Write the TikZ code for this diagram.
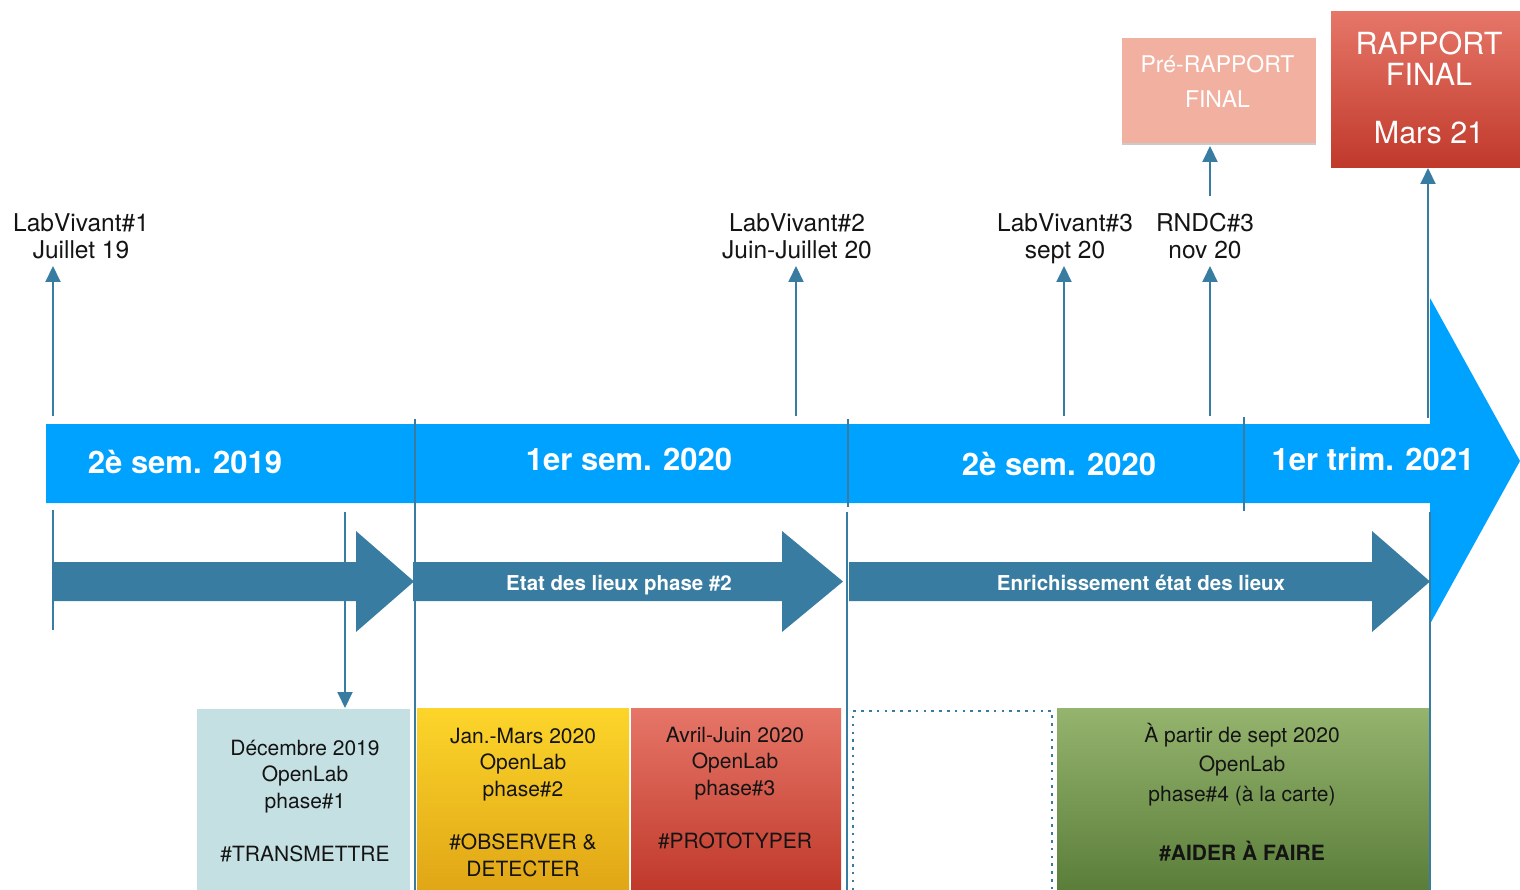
\documentclass[tikz,border=0pt]{standalone}
\usepackage{fontspec}
\setmainfont{TeX Gyre Heros}
\usetikzlibrary{arrows.meta,shadows}
\definecolor{band}{RGB}{0,162,255}
\definecolor{steel}{RGB}{56,125,161}
\definecolor{prefill}{RGB}{242,176,160}
\definecolor{rtop}{RGB}{230,118,104}
\definecolor{rbot}{RGB}{192,57,43}
\definecolor{ytop}{RGB}{252,213,42}
\definecolor{ybot}{RGB}{224,166,22}
\definecolor{gtop}{RGB}{149,180,110}
\definecolor{gbot}{RGB}{90,126,58}
\definecolor{pblue}{RGB}{196,224,227}
\definecolor{ink}{RGB}{20,20,20}
\begin{document}
\begin{tikzpicture}[x=1pt,y=-1pt,
  vline/.style={draw=steel, line width=2pt},
  uparrow/.style={vline, -{Triangle[length=16pt,width=15pt]}},
  lbl/.style={align=center, inner sep=0pt, outer sep=0pt, anchor=north, text=ink,
    font=\fontsize{24.5}{26.5}\selectfont},
  bandtxt/.style={text=white, font=\fontsize{31}{34}\selectfont\bfseries, inner sep=0pt},
  arrtxt/.style={text=white, font=\fontsize{20.5}{24}\selectfont\bfseries, inner sep=0pt, anchor=base},
  boxtxt/.style={align=center, inner sep=0pt, outer sep=0pt, anchor=north, text=ink,
    font=\fontsize{21}{26.6}\selectfont},
  panel/.style={rectangle, inner sep=0pt, outer sep=0pt, anchor=north west, draw=none},
]
\useasboundingbox (0,0) rectangle (1520,890);

% ---- bottom panels
\node[panel, fill=pblue, minimum width=213pt, minimum height=181pt] (p1) at (197,709) {};
\node[panel, top color=ytop, bottom color=ybot, minimum width=212pt, minimum height=182pt] (p2) at (417,708) {};
\node[panel, top color=rtop, bottom color=rbot, minimum width=210pt, minimum height=182pt] (p3) at (631,708) {};
\node[panel, top color=gtop, bottom color=gbot, minimum width=373pt, minimum height=182pt] (p4) at (1057,708) {};
\draw[steel, line width=2.5pt, dash pattern=on 2.5pt off 5.3pt] (853,890) -- (853,711) -- (1052,711) -- (1052,890);

\node[boxtxt] (p1t) at (305,733) {\rule{0pt}{22pt}Décembre 2019\\OpenLab\\phase\#1\\[26.6pt]\#TRANSMETTRE};
\node[boxtxt] (p2t) at (523,721) {\rule{0pt}{22pt}Jan.-Mars 2020\\OpenLab\\phase\#2\\[26.6pt]\#OBSERVER \&\\DETECTER};
\node[boxtxt] (p3t) at (735,720) {\rule{0pt}{22pt}Avril-Juin 2020\\OpenLab\\phase\#3\\[26.6pt]\#PROTOTYPER};
\node[boxtxt, font=\fontsize{21}{29.5}\selectfont] (p4t) at (1242,720) {\rule{0pt}{22pt}À partir de sept 2020\\OpenLab\\phase\#4 (à la carte)\\[29.5pt]\textbf{\#AIDER À FAIRE}};

% ---- timeline band
\path[fill=band] (46,424) -- (1430,424) -- (1430,298) -- (1520,461) -- (1430,624) -- (1430,503) -- (46,503) -- cycle;
\node[bandtxt] (s1) at (185,462) {2è sem. 2019};
\node[bandtxt] (s2) at (629,459) {1er sem. 2020};
\node[bandtxt] (s3) at (1059,464) {2è sem. 2020};
\node[bandtxt] (s4) at (1373,459) {1er trim. 2021};

% ---- phase arrows
\fill[steel] (53,562) -- (356,562) -- (356,531) -- (414,581.5) -- (356,632) -- (356,601) -- (53,601) -- cycle;
\fill[steel] (413,562) -- (782,562) -- (782,531) -- (843,581.5) -- (782,632) -- (782,601) -- (413,601) -- cycle;
\fill[steel] (849,562) -- (1372,562) -- (1372,531) -- (1430,581.5) -- (1372,632) -- (1372,601) -- (849,601) -- cycle;
\node[arrtxt] (a2t) at (619,590) {Etat des lieux phase \#2};
\node[arrtxt] (a3t) at (1141,590) {Enrichissement état des lieux};

% ---- vertical separators
\coordinate (v1a) at (53,510);   \coordinate (v1b) at (53,630);
\coordinate (v2a) at (415,419);  \coordinate (v2b) at (415,890);
\coordinate (v3a) at (848,419);  \coordinate (v3b) at (848,507);
\coordinate (v3c) at (847,512);  \coordinate (v3d) at (847,890);
\coordinate (v4a) at (1244,417); \coordinate (v4b) at (1244,511);
\coordinate (v5a) at (1430,512); \coordinate (v5b) at (1430,890);
\draw[vline] (v1a) -- (v1b);
\draw[vline] (v2a) -- (v2b);
\draw[vline] (v3a) -- (v3b);
\draw[vline] (v3c) -- (v3d);
\draw[vline] (v4a) -- (v4b);
\draw[vline] (v5a) -- (v5b);

% ---- top labels
\node[lbl] (lv1) at (81,211) {\rule{0pt}{21pt}LabVivant\#1\\Juillet 19};
\node[lbl] (lv2) at (797,211) {\rule{0pt}{21pt}LabVivant\#2\\Juin-Juillet 20};
\node[lbl] (lv3) at (1065,211) {\rule{0pt}{21pt}LabVivant\#3\\sept 20};
\node[lbl] (rn3) at (1205,211) {\rule{0pt}{21pt}RNDC\#3\\nov 20};

% ---- report boxes
\node[panel, fill=prefill, minimum width=194pt, minimum height=105pt,
  drop shadow={shadow xshift=0pt, shadow yshift=-2pt, opacity=0.35, fill=black!60}] (pre) at (1122,38) {};
\node[align=center, inner sep=0pt, anchor=north, text=white, font=\fontsize{23}{35}\selectfont] (pret) at (1217.5,51)
  {\rule{0pt}{21pt}Pré-RAPPORT\\FINAL};
\node[panel, top color=rtop, bottom color=rbot, minimum width=189pt, minimum height=156pt] (rap) at (1331,12) {};
\node[align=center, inner sep=0pt, anchor=north, text=white, font=\fontsize{30.5}{31}\selectfont] (rapt) at (1429,28)
  {\rule{0pt}{26pt}RAPPORT\\FINAL\\[27pt]Mars 21};

% ---- arrows up / down
\coordinate (b1) at (53,416);   \coordinate (t1) at (53,266);
\coordinate (b2) at (796,416);  \coordinate (t2) at (796,266);
\coordinate (b3) at (1064,416); \coordinate (t3) at (1064,266);
\coordinate (b4) at (1210,416); \coordinate (t4) at (1210,266);
\coordinate (b5) at (1210,196);
\coordinate (b6) at (1428,418);
\coordinate (d1) at (345,512);
\draw[uparrow] (b1) -- (t1);
\draw[uparrow] (b2) -- (t2);
\draw[uparrow] (b3) -- (t3);
\draw[uparrow] (b4) -- (t4);
\draw[uparrow, shorten >=3pt] (b5) -- (b5 |- pre.south);
\draw[uparrow] (b6) -- (b6 |- rap.south);
\draw[uparrow, shorten >=1pt] (d1) -- (d1 |- p1.north);
\end{tikzpicture}
\end{document}
